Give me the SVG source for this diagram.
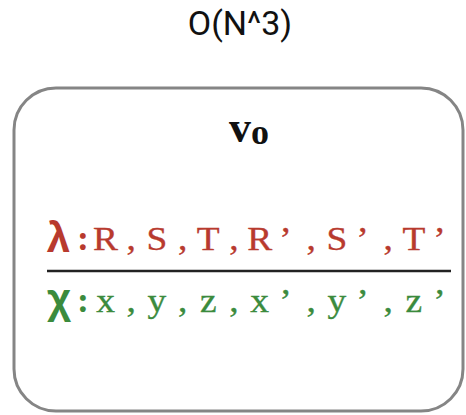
<svg xmlns="http://www.w3.org/2000/svg" width="466" height="415" viewBox="0 0 466 415">
  <style>
    .title { font-family: Roboto, "Liberation Sans", sans-serif; font-size: 34px; fill: #111; }
    .node-box { fill: #ffffff; stroke: #858585; stroke-width: 3; }
    .vname { font-family: "Liberation Serif", serif; font-weight: bold; fill: #111; }
    .sym { font-family: "Liberation Sans", sans-serif; font-weight: bold; font-size: 42px; text-anchor: middle; }
    .colon { font-family: "Liberation Serif", serif; font-weight: bold; font-size: 36px; text-anchor: middle; }
    .mono { font-family: "Liberation Serif", serif; font-size: 34px; text-anchor: middle; stroke-width: 0.35; }
    .red { fill: #b83a2e; stroke: #b83a2e; }
    .green { fill: #3b8b3d; stroke: #3b8b3d; }
    .sym, .colon { stroke: none; }
  </style>
  <rect width="466" height="415" fill="#ffffff"/>
  <text class="title" x="240" y="35" text-anchor="middle">O(N^3)</text>
  <g id="v0">
    <rect class="node-box" x="14" y="88" width="449" height="323" rx="42" ry="42"/>
    <text class="vname" x="229" y="142" font-size="44">v<tspan font-size="36" dy="2">o</tspan></text>
    <g id="lambda-row">
      <text class="sym red" x="58.5" y="252">λ</text>
      <text class="colon red" x="83" y="250">:</text>
      <!-- one glyph per fixed-width cell, centred on its cell; widened 1.1x -->
      <g transform="scale(1.1,1)">
        <text class="mono red" y="250" x="95.91 119.27 142.64 166 189.36 212.73 236.09 259.45 282.82 306.18 329.55 352.91 376.27 399.64">R,S,T,R’,S’,T’</text>
      </g>
    </g>
    <line x1="47" y1="271" x2="451" y2="271" stroke="#222" stroke-width="2.5"/>
    <g id="chi-row">
      <text class="sym green" x="59" y="313">χ</text>
      <text class="colon green" x="83" y="312">:</text>
      <g transform="scale(1.1,1)">
        <text class="mono green" y="312" x="95.91 119.27 142.64 166 189.36 212.73 236.09 259.45 282.82 306.18 329.55 352.91 376.27 399.64">x,y,z,x’,y’,z’</text>
      </g>
    </g>
  </g>
</svg>
